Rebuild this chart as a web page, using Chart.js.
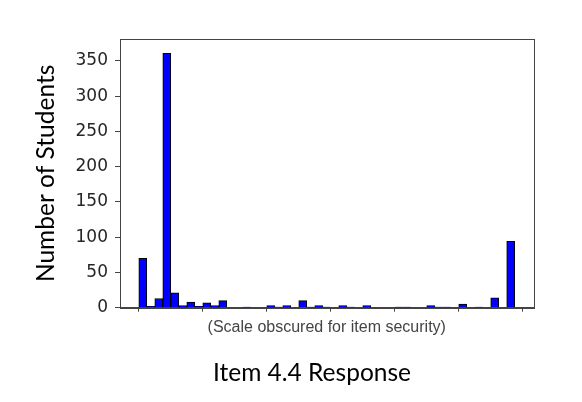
<!DOCTYPE html>
<html>
<head>
<meta charset="utf-8">
<script src="https://cdn.jsdelivr.net/npm/chart.js@4.4.0/dist/chart.umd.min.js"></script>
<style>
  body { margin: 0; background: #fff; }
  #wrap { width: 582px; height: 402px; }
</style>
</head>
<body>
<div id="wrap"><canvas id="hist" width="582" height="402"></canvas></div>
<script>
// histogram bins (bin index) and counts
const binCounts = [70, 2, 13, 361, 21, 3, 8, 2, 7, 3, 10, 0, 0, 1, 0, 0,
                   3, 1, 3, 0, 10, 1, 3, 1, 0, 3, 1, 0, 3, 0, 0, 0,
                   1, 1, 0, 0, 3, 1, 1, 0, 5, 0, 1, 0, 14, 0, 94];
const xTicks = [0, 8, 16, 24, 32, 40, 48];
const yTicks = [0, 50, 100, 150, 200, 250, 300, 350];

const yTitle = 'Number of Students';
const xTitle = '(Scale obscured for item security)';
const mainTitle = 'Item 4.4 Response';

const points = binCounts.map((c, i) => ({ x: i + 0.5, y: c }));

// box around the plot area + the big caption under the chart
const frame = {
    id: 'frame',
    afterDraw(chart) {
        const a = chart.chartArea;
        const ctx = chart.ctx;
        ctx.save();
        ctx.strokeStyle = '#444';
        ctx.lineWidth = 1;
        ctx.strokeRect(Math.round(a.left) + 0.5, Math.round(a.top) + 0.5,
                       Math.round(a.right - a.left), Math.round(a.bottom - a.top));
        ctx.fillStyle = '#000';
        ctx.font = '24.5px Lato';
        ctx.textAlign = 'center';
        ctx.textBaseline = 'middle';
        ctx.fillText(mainTitle, 312, 373);
        ctx.restore();
    }
};

new Chart(document.getElementById('hist'), {
    type: 'bar',
    data: {
        datasets: [{
            data: points,
            backgroundColor: '#0000ff',
            borderColor: '#000',
            borderWidth: 1,
            barPercentage: 1,
            categoryPercentage: 1
        }]
    },
    options: {
        responsive: false,
        animation: false,
        layout: { padding: { top: 39, right: 48.5, bottom: 64.4, left: 0 } },
        plugins: {
            legend: { display: false },
            tooltip: { enabled: false }
        },
        scales: {
            x: {
                type: 'linear',
                offset: false,
                min: -2.35,
                max: 49.35,
                afterBuildTicks: s => { s.ticks = xTicks.map(v => ({ value: v })); },
                afterFit: s => { s.height = 29.9; },
                ticks: { display: false },
                grid: { offset: false, drawOnChartArea: false, drawTicks: true, tickLength: 4, color: '#444' },
                border: { color: '#444' },
                title: {
                    display: true,
                    text: xTitle,
                    color: '#444',
                    font: { family: 'Liberation Sans', size: 16 },
                    padding: { top: 0, bottom: 0 }
                }
            },
            y: {
                min: 0,
                max: 381.2,
                afterBuildTicks: s => { s.ticks = yTicks.map(v => ({ value: v })); },
                afterFit: s => { s.width = 120; },
                ticks: {
                    color: '#262626',
                    padding: 7,
                    font: { family: 'DejaVu Sans', size: 17 }
                },
                grid: { drawOnChartArea: false, drawTicks: true, tickLength: 5, color: '#444' },
                border: { color: '#444' },
                title: {
                    display: true,
                    text: yTitle,
                    color: '#000',
                    font: { family: 'Lato', size: 24.5 },
                    padding: { top: 31.6, bottom: 0 }
                }
            }
        }
    },
    plugins: [frame]
});
</script>
</body>
</html>
